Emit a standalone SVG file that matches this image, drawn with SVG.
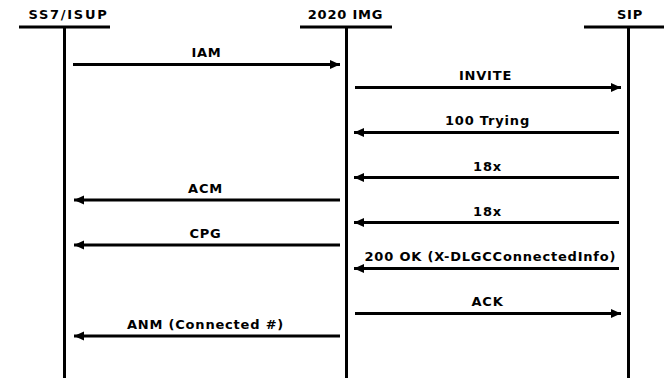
<svg xmlns="http://www.w3.org/2000/svg" width="664" height="378" viewBox="0 0 664 378">
<style>
text{font-family:"DejaVu Sans",Verdana,sans-serif;font-weight:bold;font-size:13px;letter-spacing:0.8px;fill:#000;text-anchor:middle}
.life{stroke:#000;stroke-width:3;fill:none}
.msg{stroke:#000;stroke-width:3;fill:none;marker-end:url(#ah)}
</style>
<defs>
<marker id="ah" markerUnits="userSpaceOnUse" markerWidth="12" markerHeight="10" refX="10" refY="5" orient="auto">
<path d="M0,0.5 L10,5 L0,9.5 Z" fill="#000"/>
</marker>
</defs>
<g id="node-ss7">
<text x="68" y="19" textLength="79">SS7/ISUP</text>
<line class="life" x1="19" y1="27" x2="110" y2="27"/>
<line class="life" x1="64.5" y1="27" x2="64.5" y2="378"/>
</g>
<g id="node-img">
<text x="345.5" y="19">2020 IMG</text>
<line class="life" x1="300" y1="27" x2="392" y2="27"/>
<line class="life" x1="346.5" y1="27" x2="346.5" y2="378"/>
</g>
<g id="node-sip">
<text x="630" y="19">SIP</text>
<line class="life" x1="584" y1="27" x2="664" y2="27"/>
<line class="life" x1="628.5" y1="27" x2="628.5" y2="378"/>
</g>
<g id="connectors">
<line class="msg" x1="73" y1="64.5" x2="340" y2="64.5"/>
<text x="206.5" y="57">IAM</text>
<line class="msg" x1="355" y1="87.5" x2="621" y2="87.5"/>
<text x="485.5" y="80">INVITE</text>
<line class="msg" x1="619" y1="132.5" x2="354" y2="132.5"/>
<text x="487.5" y="125">100 Trying</text>
<line class="msg" x1="619" y1="177.5" x2="354" y2="177.5"/>
<text x="487.5" y="170.5">18x</text>
<line class="msg" x1="340" y1="200" x2="74" y2="200"/>
<text x="205.5" y="192.5">ACM</text>
<line class="msg" x1="619" y1="222.5" x2="354" y2="222.5"/>
<text x="487.5" y="215.5">18x</text>
<line class="msg" x1="340" y1="245" x2="74" y2="245"/>
<text x="205.5" y="237.5">CPG</text>
<line class="msg" x1="619" y1="268.5" x2="354" y2="268.5"/>
<text x="490.4" y="260.5">200 OK (X-DLGCConnectedInfo)</text>
<line class="msg" x1="355" y1="313.5" x2="621" y2="313.5"/>
<text x="487.5" y="305.5">ACK</text>
<line class="msg" x1="340" y1="336" x2="74" y2="336"/>
<text x="205.5" y="329">ANM (Connected #)</text>
</g>
</svg>
